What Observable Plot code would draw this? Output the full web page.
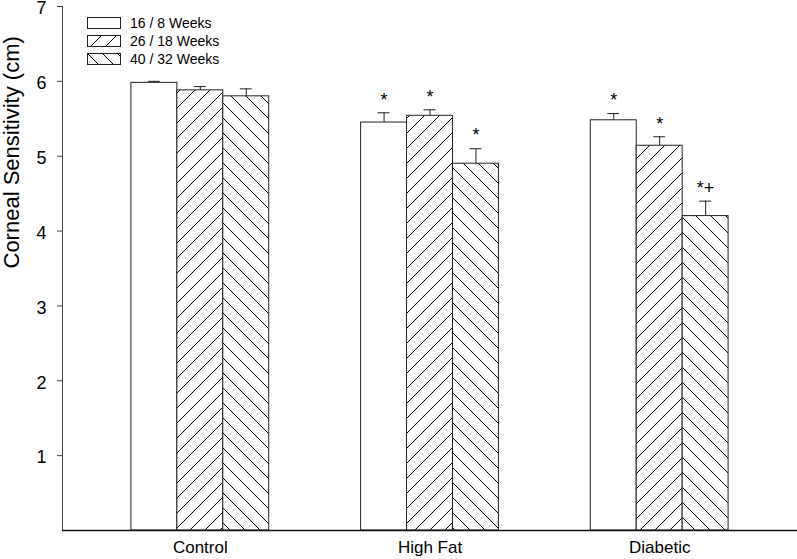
<!DOCTYPE html>
<html><head><meta charset="utf-8">
<script src="https://cdn.jsdelivr.net/npm/d3@7"></script>
<script src="https://cdn.jsdelivr.net/npm/@observablehq/plot@0.6"></script>
<style>
body{margin:0;background:#fff;font-family:"Liberation Sans",Arial,sans-serif}
#wrap{position:relative;width:797px;height:559px}
#legend{position:absolute;left:87px;top:14px;font-size:14px;color:#000}
#legend .row{display:flex;align-items:center;height:18px}
#legend svg{margin-right:9px}
</style></head><body>
<div id="wrap"><div id="legend"></div></div>
<script>
const groups = ["Control", "High Fat", "Diabetic"];
const series = ["16 / 8 Weeks", "26 / 18 Weeks", "40 / 32 Weeks"];
const values = [[5.98, 5.88, 5.80], [5.45, 5.54, 4.90], [5.48, 5.14, 4.20]];
const errors = [[0.02, 0.05, 0.10], [0.13, 0.08, 0.20], [0.09, 0.12, 0.20]];
const signif = [["", "", ""], ["*", "*", "*"], ["*", "*", "*+"]];
const yTicks = [1, 2, 3, 4, 5, 6, 7];
const yLabel = "Corneal Sensitivity (cm)";

const fills = ["white", "url(#hatchF)", "url(#hatchB)"];

// slot domain: three bars per group, two empty slots between groups
const slots = [];
groups.forEach((g, gi) => {
  if (gi > 0) slots.push(`gap${gi}a`, `gap${gi}b`);
  series.forEach((s, si) => slots.push(`${g}|${si}`));
});
const rows = groups.flatMap((g, gi) => series.map((s, si) => ({
  slot: `${g}|${si}`, group: g, series: s, si,
  value: values[gi][si], err: errors[gi][si], top: values[gi][si] + errors[gi][si], mark: signif[gi][si]
})));
const centerSlots = groups.map(g => `${g}|1`);

const plot = Plot.plot({
  width: 797, height: 559,
  marginLeft: 62, marginRight: 0, marginTop: 6, marginBottom: 29,
  style: {fontFamily: "'Liberation Sans', Arial, sans-serif", background: "white", color: "black", overflow: "visible"},
  x: {type: "band", domain: slots, paddingInner: 0, paddingOuter: 1.5, round: false},
  y: {domain: [0, 7]},
  marks: [
    Plot.frame({anchor: "left", stroke: "#444"}),
    ...series.map((s, si) => Plot.barY(rows.filter(d => d.si === si), {
      x: "slot", y: "value", fill: fills[si], stroke: "#222", strokeWidth: 1
    })),
    Plot.ruleX(rows, {x: "slot", y1: "value", y2: "top", stroke: "#222"}),
    Plot.tickY(rows, {x: "slot", y: "top", stroke: "#222", insetLeft: 17, insetRight: 17}),
    Plot.text(rows, {x: "slot", y: "top", text: "mark", dy: -13, fontSize: 18, fill: "black"}),
    Plot.ruleY([0], {stroke: "#111", strokeWidth: 1.5}),
    Plot.axisY({ticks: yTicks, tickFormat: () => "", tickSize: 5, stroke: "#444", label: null}),
    Plot.text(yTicks, {y: d => d, text: d => String(d), frameAnchor: "left", dx: -16, dy: 2, textAnchor: "end", fontSize: 18, fill: "black"}),
    Plot.text([yLabel], {text: d => d, frameAnchor: "left", rotate: -90, dx: -51, fontSize: 22, lineAnchor: "middle", fill: "black"}),
    Plot.axisX({ticks: centerSlots, tickFormat: d => d.split("|")[0], tickSize: 0, tickPadding: 10, fontSize: 17, label: null})
  ]
});

// hatch pattern defs
const ns = "http://www.w3.org/2000/svg";
const defs = document.createElementNS(ns, "defs");
defs.innerHTML = `
<pattern id="hatchF" patternUnits="userSpaceOnUse" width="15" height="15">
  <rect width="15" height="15" fill="white"/>
  <path d="M-4,4 L4,-4 M0,15 L15,0 M11,19 L19,11" stroke="#000" stroke-width="1"/>
</pattern>
<pattern id="hatchB" patternUnits="userSpaceOnUse" width="15" height="15">
  <rect width="15" height="15" fill="white"/>
  <path d="M-4,11 L4,19 M0,0 L15,15 M11,-4 L19,4" stroke="#000" stroke-width="1"/>
</pattern>`;
plot.insertBefore(defs, plot.firstChild);
document.getElementById("wrap").insertBefore(plot, document.getElementById("legend"));

// legend
const legend = d3.select("#legend");
series.forEach((s, si) => {
  const row = legend.append("div").attr("class", "row");
  const sw = row.append("svg").attr("width", 34).attr("height", 12);
  sw.append("rect").attr("x", 0.5).attr("y", 0.5).attr("width", 33).attr("height", 11)
    .attr("fill", fills[si]).attr("stroke", "#222");
  row.append("span").text(s);
});
</script>
</body></html>
